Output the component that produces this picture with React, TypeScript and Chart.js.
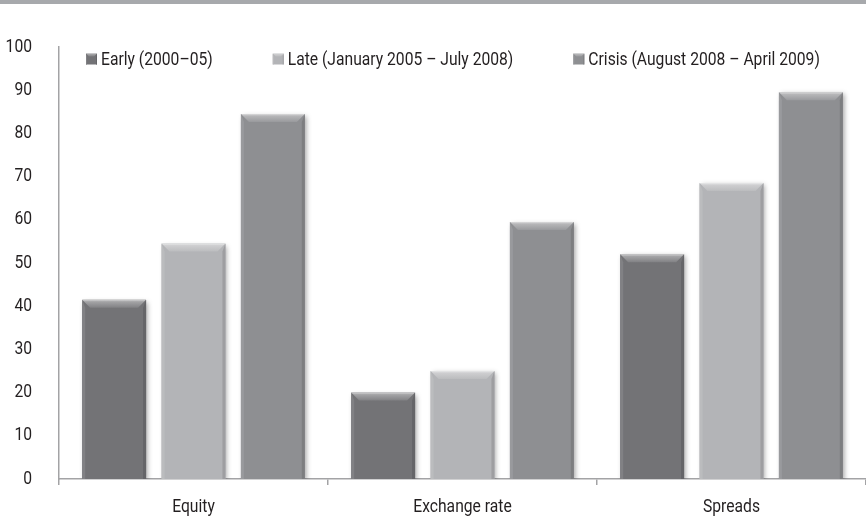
import React, { useEffect, useRef } from "react";
import { Chart, registerables } from "chart.js";

Chart.register(...registerables);

const categories = ["Equity", "Exchange rate", "Spreads"];
const seriesLabels = [
  "Early (2000–05)",
  "Late (January 2005 – July 2008)",
  "Crisis (August 2008 – April 2009)",
];
const earlyValues = [41.5, 20, 52];
const lateValues = [54.5, 25, 68.5];
const crisisValues = [84.5, 59.5, 89.5];
const seriesColors = ["#737376", "#b3b4b7", "#8e8f92"];
const yMin = 0;
const yMax = 100;
const yStep = 10;

const FONT = "Roboto, 'Liberation Sans', sans-serif";
const FONT_SIZE = 18;
const SQUEEZE = 0.87;
const TEXT_COLOR = "#231f20";
const AXIS_COLOR = "#a3a3a5";

function shade(hex: string, amt: number): string {
  const n = parseInt(hex.slice(1), 16);
  let r = (n >> 16) & 255, g = (n >> 8) & 255, b = n & 255;
  const f = (c: number) => Math.max(0, Math.min(255, Math.round(amt >= 0 ? c + (255 - c) * amt : c * (1 + amt))));
  r = f(r); g = f(g); b = f(b);
  return `rgb(${r},${g},${b})`;
}

function drawBevel(ctx: CanvasRenderingContext2D, left: number, top: number, right: number, bottom: number, color: string, b: number, s: number) {
  ctx.beginPath();
  ctx.moveTo(left, top);
  ctx.lineTo(right, top);
  ctx.lineTo(right - b, top + b);
  ctx.lineTo(left + b, top + b);
  ctx.closePath();
  const g = ctx.createLinearGradient(0, top, 0, top + b);
  g.addColorStop(0, shade(color, 0.7));
  g.addColorStop(0.25, shade(color, 0.35));
  g.addColorStop(1, shade(color, 0.1));
  ctx.fillStyle = g;
  ctx.fill();
  ctx.beginPath();
  ctx.moveTo(left, top);
  ctx.lineTo(left + s, top + b);
  ctx.lineTo(left + s, bottom);
  ctx.lineTo(left, bottom);
  ctx.closePath();
  ctx.fillStyle = shade(color, 0.1);
  ctx.fill();
  ctx.beginPath();
  ctx.moveTo(right, top);
  ctx.lineTo(right - s, top + b);
  ctx.lineTo(right - s, bottom);
  ctx.lineTo(right, bottom);
  ctx.closePath();
  ctx.fillStyle = shade(color, -0.12);
  ctx.fill();
}

function squeezedText(ctx: CanvasRenderingContext2D, text: string, x: number, y: number, align: "left" | "right" | "center") {
  ctx.save();
  ctx.translate(x, y);
  ctx.scale(SQUEEZE, 1);
  ctx.textAlign = align;
  ctx.textBaseline = "middle";
  ctx.fillText(text, 0, 0);
  ctx.restore();
}

const bevelPlugin = {
  id: "bevelBars",
  beforeDatasetsDraw(chart: any) {
    const ctx = chart.ctx;
    ctx.save();
    ctx.shadowColor = "rgba(0,0,0,0.35)";
    ctx.shadowBlur = 5;
    ctx.shadowOffsetX = 2;
    ctx.shadowOffsetY = 2;
  },
  afterDatasetsDraw(chart: any) {
    const ctx = chart.ctx;
    ctx.restore();
    ctx.save();
    chart.data.datasets.forEach((ds: any, i: number) => {
      const meta = chart.getDatasetMeta(i);
      meta.data.forEach((bar: any) => {
        const w = bar.width;
        const left = bar.x - w / 2;
        const right = bar.x + w / 2;
        const top = Math.min(bar.y, bar.base);
        const bottom = Math.max(bar.y, bar.base);
        drawBevel(ctx, left, top, right, bottom, ds.backgroundColor, 8, 3);
      });
    });
    ctx.restore();
  },
};

const textPlugin = {
  id: "condensedText",
  afterDraw(chart: any) {
    const ctx = chart.ctx;
    const area = chart.chartArea;
    ctx.save();
    ctx.font = `${FONT_SIZE}px ${FONT}`;
    ctx.fillStyle = TEXT_COLOR;
    const ys = chart.scales.y;
    ys.ticks.forEach((t: any) => {
      const py = ys.getPixelForValue(t.value);
      squeezedText(ctx, String(t.value), area.left - 27, py, "right");
    });
    const xs = chart.scales.x;
    chart.data.labels.forEach((lab: string, i: number) => {
      const px = xs.getPixelForValue(i);
      squeezedText(ctx, lab, px, area.bottom + 28, "center");
    });
    let x = area.left + 27;
    const y = area.top + 12;
    chart.data.datasets.forEach((ds: any) => {
      const size = 11;
      const bx = x, by = y - size / 2;
      ctx.fillStyle = ds.backgroundColor;
      ctx.fillRect(bx, by, size, size);
      drawBevel(ctx, bx, by, bx + size, by + size, ds.backgroundColor, 3, 1);
      ctx.fillStyle = TEXT_COLOR;
      squeezedText(ctx, ds.label, x + 15, y + 1, "left");
      x += 15 + ctx.measureText(ds.label).width * SQUEEZE + 60;
    });
    ctx.restore();
  },
};

export default function App() {
  const canvasRef = useRef<HTMLCanvasElement | null>(null);

  useEffect(() => {
    document.body.style.margin = "0";
    const canvas = canvasRef.current;
    if (!canvas) return;
    const values = [earlyValues, lateValues, crisisValues];
    const chart = new Chart(canvas, {
      type: "bar",
      data: {
        labels: categories,
        datasets: seriesLabels.map((label, i) => ({
          label,
          data: values[i],
          backgroundColor: seriesColors[i],
          borderWidth: 0,
          barPercentage: 0.805,
          categoryPercentage: 0.885,
        })),
      },
      options: {
        responsive: false,
        animation: false,
        devicePixelRatio: 1,
        layout: { padding: { top: 47, right: 0, bottom: 0, left: 0 } },
        plugins: {
          legend: { display: false },
          tooltip: { enabled: false },
        },
        scales: {
          x: {
            offset: true,
            grid: {
              display: true,
              drawOnChartArea: false,
              drawTicks: true,
              tickLength: 6,
              color: AXIS_COLOR,
              lineWidth: 1.5,
              offset: true,
            },
            border: { display: true, color: AXIS_COLOR, width: 1.5 },
            ticks: { display: false },
            afterFit(scale: any) {
              scale.height = 40;
            },
          },
          y: {
            min: yMin,
            max: yMax,
            grid: { display: false, drawTicks: false },
            border: { display: true, color: AXIS_COLOR, width: 1.5 },
            ticks: { stepSize: yStep, display: false },
            afterFit(scale: any) {
              scale.width = 59;
            },
          },
        },
      },
      plugins: [bevelPlugin, textPlugin],
    });
    return () => chart.destroy();
  }, []);

  return (
    <div style={{ position: "fixed", left: 0, top: 0, width: 866, height: 519, background: "#ffffff", overflow: "hidden" }}>
      <div style={{ position: "absolute", left: 0, top: 0, width: 866, height: 4, background: "#a7a9ac" }} />
      <canvas ref={canvasRef} width={866} height={519} style={{ position: "absolute", left: 0, top: 0 }} />
    </div>
  );
}
